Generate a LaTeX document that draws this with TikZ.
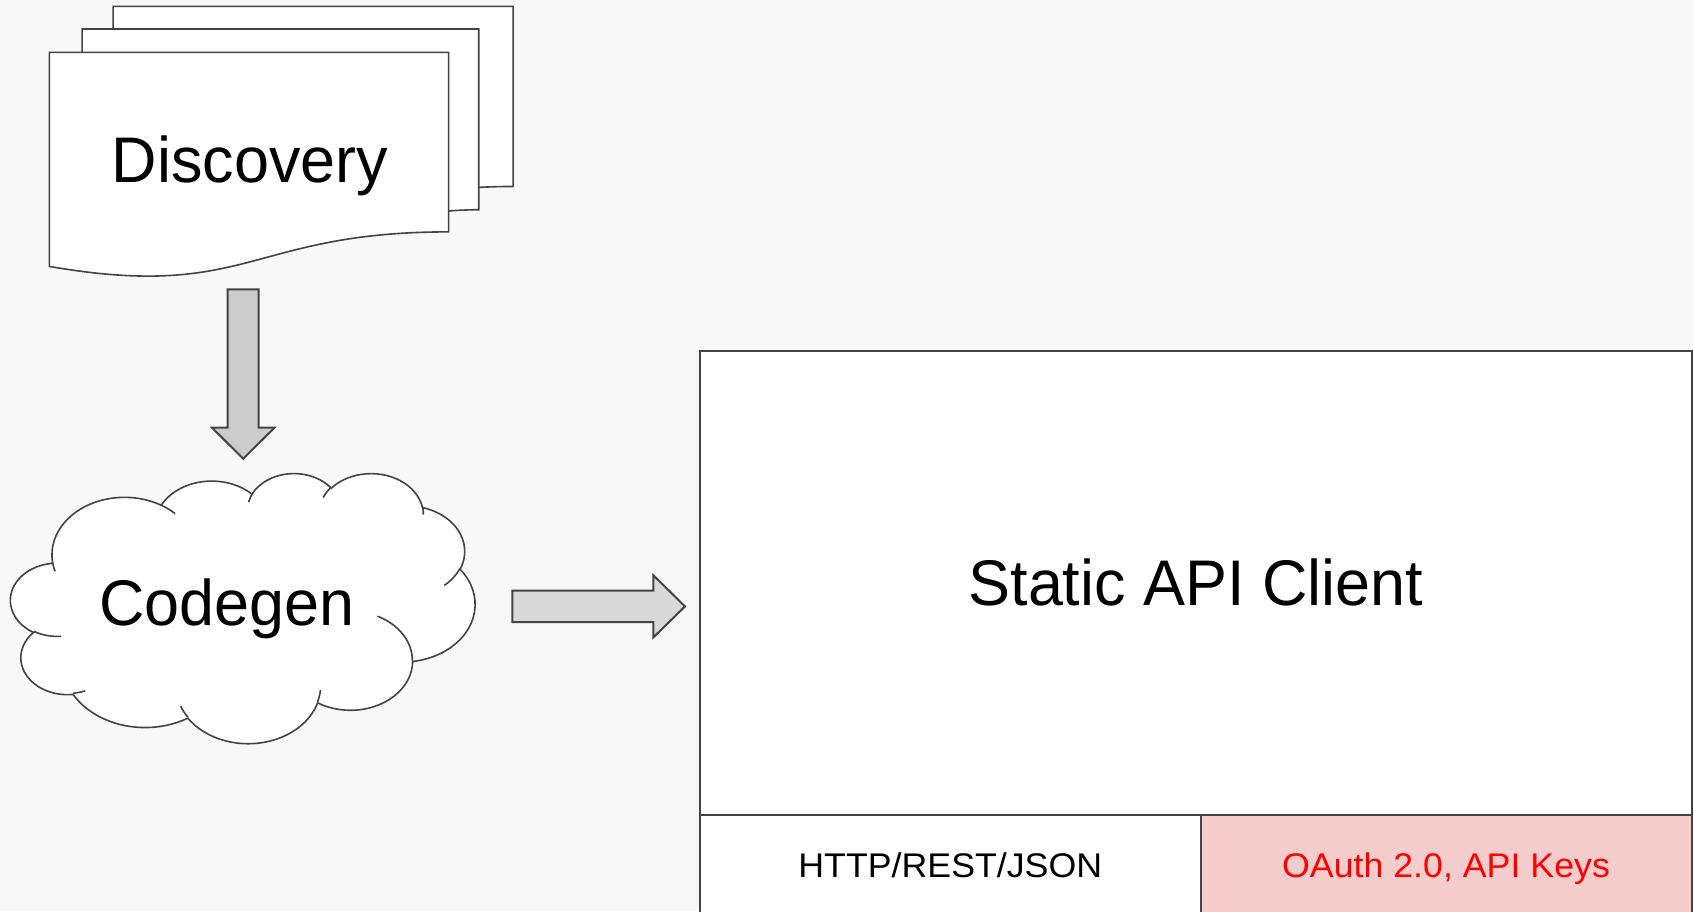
\documentclass[tikz,border=0pt]{standalone}
\usepackage{fontspec}
\setmainfont{Liberation Sans}
\newfontfamily\bigfont[FakeStretch=0.975]{Liberation Sans}
\newfontfamily\smallfont[FakeStretch=1.045]{Liberation Sans}
\definecolor{bgcol}{HTML}{F8F8F8}
\definecolor{edgecol}{HTML}{434343}
\definecolor{arrowdark}{HTML}{CCCCCC}
\definecolor{arrowlight}{HTML}{D9D9D9}
\definecolor{pinkfill}{HTML}{F4CCCC}
\definecolor{redtext}{HTML}{FF0000}
\begin{document}
\begin{tikzpicture}[x=1pt,y=-1pt,
  docshape/.style={draw=edgecol, fill=white, line width=1.6pt, line join=miter},
  cloudshape/.style={draw=edgecol, fill=white, line width=1.6pt},
  hookline/.style={draw=edgecol, line width=1.6pt},
  blockarrowdark/.style={draw=edgecol, fill=arrowdark, line width=2pt, line join=miter},
  blockarrowlight/.style={draw=edgecol, fill=arrowlight, line width=2pt, line join=miter},
  bigtext/.style={font=\bigfont\fontsize{64.5}{70}\selectfont, text height=46.2pt, text depth=0pt, inner sep=0pt},
  smalltext/.style={font=\smallfont\fontsize{34.2}{40}\selectfont, text height=24.5pt, text depth=0pt, inner sep=0pt},
  clientbox/.style={draw=edgecol, fill=white, line width=2pt, bigtext},
  cellbox/.style={draw=edgecol, line width=2pt, smalltext}
]
\useasboundingbox (0,0) rectangle (1694,911);
\fill[bgcol] (0,0) rectangle (1694,911);

% stacked documents (multidocument shape, 216 x 216 units)
\begin{scope}[shift={(49.3,6.3)}]
\begin{scope}[x=2.1474pt, y=-1.2517pt]
  \filldraw[docshape] (29.72,0) -- (216,0) -- (216,143.92)
    .. controls (208,143.92) and (200,144.67) .. (200,144.67) -- (29.72,144.67) -- cycle;
  \filldraw[docshape] (15.32,18.15) -- (200,18.15) -- (200,162.52)
    .. controls (192.98,162.52) and (185.95,163.52) .. (185.95,163.52) -- (15.32,163.52) -- cycle;
  \filldraw[docshape] (0,36.75) -- (185.95,36.75) -- (185.95,180.22)
    .. controls (92.98,180.22) and (92.98,235.42) .. (0,207.82) -- cycle;
\end{scope}
\end{scope}
\node[bigtext] (disc) at (250,159.6) {Discovery};

% down block arrow
\filldraw[blockarrowdark] (227.7,289.3) -- (258.5,289.3) -- (258.5,427.7) -- (274.5,427.7)
  -- (243.2,458.7) -- (212,427.7) -- (227.7,427.7) -- cycle;

% cloud (432 x 432 units)
\begin{scope}[shift={(10.7,472.7)}]
\begin{scope}[x=1.07454pt, y=-0.625pt]
  \filldraw[cloudshape] (39.00,143.70)
    arc[start angle=172.254, delta angle=128.109, x radius=67.53, y radius=91.90]
    arc[start angle=-152.04, delta angle=106.62, x radius=53.33, y radius=72.67]
    arc[start angle=-153.49, delta angle=116.14, x radius=43.65, y radius=59.45]
    arc[start angle=-139.70, delta angle=129.49, x radius=48.57, y radius=65.95]
    arc[start angle=-74.77, delta angle=97.98, x radius=53.33, y radius=72.73]
    arc[start angle=-37.54, delta angle=119.40, x radius=67.75, y radius=92.20]
    arc[start angle=0.4596, delta angle=121.51, x radius=57.85, y radius=78.67]
    arc[start angle=16.84, delta angle=129.39, x radius=67.52, y radius=92.15]
    arc[start angle=58.98, delta angle=91.21, x radius=77.20, y radius=105.43]
    arc[start angle=83.31, delta angle=139.80, x radius=43.60, y radius=59.18]
    arc[start angle=120.35, delta angle=143.76, x radius=43.45, y radius=59.45]
    -- cycle;
  \draw[hookline] (46.93,261.77) arc[start angle=85.55, delta angle=34.80, x radius=43.45, y radius=59.45];
  \draw[hookline] (69.28,348.99) arc[start angle=68.23, delta angle=15.08, x radius=43.60, y radius=59.18];
  \draw[hookline] (164.78,390.90) arc[start angle=146.23, delta angle=12.25, x radius=67.52, y radius=92.15];
  \draw[hookline] (288.27,347.51) arc[start angle=4.738, delta angle=12.10, x radius=67.52, y radius=92.15];
  \draw[hookline] (341.29,229.54) arc[start angle=-64.02, delta angle=64.48, x radius=57.85, y radius=78.67];
  \draw[hookline] (417.98,153.54) arc[start angle=23.21, delta angle=26.43, x radius=53.33, y radius=72.73];
  \draw[hookline] (383.24,54.26) arc[start angle=-10.21, delta angle=11.03, x radius=48.57, y radius=65.95];
  \draw[hookline] (290.78,39.52) arc[start angle=-156.28, delta angle=16.58, x radius=48.57, y radius=65.95];
  \draw[hookline] (221.41,47.20) arc[start angle=-167.73, delta angle=14.24, x radius=43.65, y radius=59.45];
  \draw[hookline] (140.00,51.92) arc[start angle=-59.637, delta angle=13.94, x radius=67.53, y radius=91.90];
  \draw[hookline] (41.27,157.89) arc[start angle=163.20, delta angle=9.05, x radius=67.53, y radius=91.90];
\end{scope}
\end{scope}
\node[bigtext] (codegen) at (226.7,601.9) {Codegen};

% right block arrow
\filldraw[blockarrowlight] (512.3,590.7) -- (653.3,590.7) -- (653.3,575.2) -- (685,606.4)
  -- (653.3,637.5) -- (653.3,622) -- (512.3,622) -- cycle;

% static API client
\node[clientbox, minimum width=991.5pt, minimum height=463.8pt] (client) at (1195.75,582.6) {Static API Client};
\node[cellbox, fill=white, minimum width=500.5pt, minimum height=101.5pt] (http) at (950.25,865.25) {HTTP/REST/JSON};
\node[cellbox, fill=pinkfill, text=redtext, minimum width=491pt, minimum height=101.5pt] (oauth) at (1446,865.25) {OAuth 2.0, API Keys};
\end{tikzpicture}
\end{document}
